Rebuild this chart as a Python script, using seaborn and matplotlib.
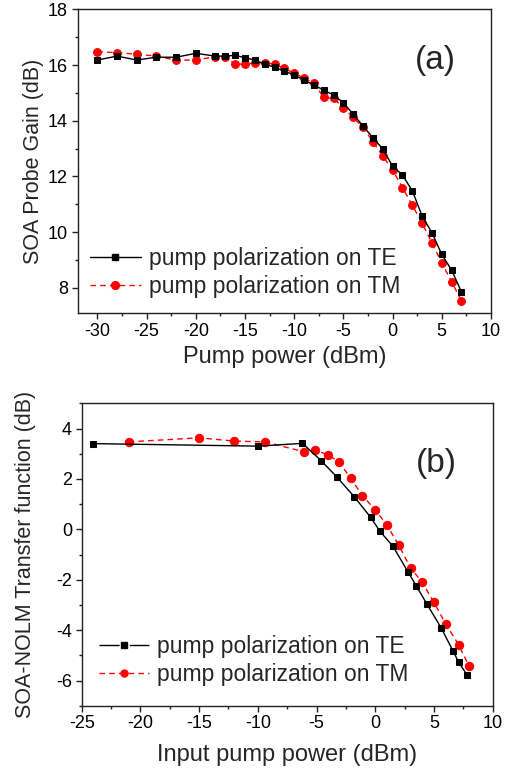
import matplotlib
matplotlib.use("Agg")
import matplotlib.pyplot as plt
import seaborn as sns
from matplotlib.ticker import MultipleLocator
from matplotlib.lines import Line2D

# ---- data: panel (a) ----
a_te_x = [-30, -28, -26, -24, -22, -20, -18, -17, -16, -15, -14, -13, -12, -11, -10, -9,
          -8, -7, -6, -5, -4, -3, -2, -1, 0, 1, 2, 3, 4, 5, 6, 7]
a_te_y = [16.18, 16.32, 16.18, 16.28, 16.28, 16.42, 16.32, 16.32, 16.35, 16.26, 16.18, 16.03,
          15.92, 15.78, 15.64, 15.46, 15.28, 15.10, 14.92, 14.65, 14.23, 13.81, 13.39, 12.99,
          12.37, 12.05, 11.49, 10.58, 9.98, 9.20, 8.64, 7.85]
a_tm_x = [-30, -28, -26, -24, -22, -20, -18, -17, -16, -15, -14, -13, -12, -11, -10, -9,
          -8, -7, -6, -5, -4, -3, -2, -1, 0, 1, 2, 3, 4, 5, 6, 7]
a_tm_y = [16.48, 16.44, 16.39, 16.32, 16.17, 16.18, 16.30, 16.28, 16.03, 16.03, 16.08, 16.09,
          16.03, 15.88, 15.70, 15.53, 15.34, 14.84, 14.80, 14.47, 14.12, 13.76, 13.25, 12.73,
          12.23, 11.60, 10.97, 10.32, 9.62, 8.90, 8.22, 7.53]

# ---- data: panel (b) ----
b_te_x = [-24, -10, -6.2, -4.6, -3.3, -1.8, -0.4, 0.4, 1.5, 2.8, 3.5, 4.4, 5.6, 6.6, 7.1, 7.8]
b_te_y = [3.40, 3.30, 3.41, 2.72, 2.09, 1.30, 0.48, -0.08, -0.67, -1.70, -2.25, -2.97, -3.90,
          -4.81, -5.27, -5.77]
b_tm_x = [-21, -15, -12, -9.4, -6.1, -5.1, -4.0, -3.1, -2.1, -1.1, 0.0, 1.0, 2.0, 3.0, 4.0,
          5.0, 6.0, 7.1, 8.0]
b_tm_y = [3.47, 3.63, 3.50, 3.47, 3.08, 3.14, 2.95, 2.68, 2.03, 1.34, 0.77, 0.16, -0.63, -1.52,
          -2.11, -2.90, -3.76, -4.58, -5.44]

labels = ["pump polarization on TE", "pump polarization on TM"]

sns.set_style("ticks")
plt.rcParams['font.family'] = ['Liberation Sans', 'DejaVu Sans']
plt.rcParams['axes.unicode_minus'] = False
plt.rcParams['axes.linewidth'] = 1.0
plt.rcParams['axes.edgecolor'] = '#222222'

W, H = 516, 772
fig = plt.figure(figsize=(W / 100, H / 100), dpi=100)

def frac(l, t, r, b):
    return [l / W, 1 - b / H, (r - l) / W, (b - t) / H]

ax1 = fig.add_axes(frac(77.7, 9.3, 491, 313))
ax2 = fig.add_axes(frac(81.7, 403.3, 492.7, 705.7))

def draw(ax, tex, tey, tmx, tmy, sq_ms, ci_ms):
    sns.lineplot(x=tex, y=tey, ax=ax, color='black', lw=1.0, marker='s', markersize=sq_ms,
                 markeredgecolor='black', estimator=None, sort=False, zorder=3)
    sns.lineplot(x=tmx, y=tmy, ax=ax, color='red', lw=1.0, marker='o', markersize=ci_ms,
                 markeredgecolor='red', estimator=None, sort=False, zorder=2)
    ax.lines[1].set_linestyle((0, (4, 3)))

draw(ax1, a_te_x, a_te_y, a_tm_x, a_tm_y, 4.6, 5.6)
draw(ax2, b_te_x, b_te_y, b_tm_x, b_tm_y, 5.0, 6.0)

ax1.set_xlim(-32, 10)
ax1.set_ylim(7.1, 18)
ax2.set_xlim(-25, 10)
ax2.set_ylim(-7, 5)

for ax in (ax1, ax2):
    ax.xaxis.set_major_locator(MultipleLocator(5))
    ax.xaxis.set_minor_locator(MultipleLocator(2.5))
    ax.yaxis.set_major_locator(MultipleLocator(2))
    ax.yaxis.set_minor_locator(MultipleLocator(1))
    for s in ax.spines.values():
        s.set_visible(True)
        s.set_linewidth(1.0)
        s.set_color('#222222')
    ax.tick_params(which='major', direction='out', length=4, width=1.0, labelsize=13,
                   colors='#222222', labelcolor='black', pad=3)
    ax.tick_params(which='minor', direction='out', length=2.5, width=1.0, colors='#222222')
    ax.tick_params(top=False, right=False, which='both')

ax1.set_xlabel("Pump power (dBm)", fontsize=17)
ax1.set_ylabel("SOA Probe Gain (dB)", fontsize=15.5)
ax2.set_xlabel("Input pump power (dBm)", fontsize=17)
ax2.set_ylabel("SOA-NOLM Transfer function (dB)", fontsize=15.5)
ax1.xaxis.set_label_coords(0.5, -0.109)
ax2.xaxis.set_label_coords(0.5, -0.127)
ax1.yaxis.set_label_coords(-0.082, 0.5)
ax2.yaxis.set_label_coords(-0.112, 0.5)

ax1.text(0.865, 0.83, "(a)", transform=ax1.transAxes, fontsize=24, ha='center', va='center')
ax2.text(0.862, 0.80, "(b)", transform=ax2.transAxes, fontsize=24, ha='center', va='center')

def legend(ax, ms_sq, ms_ci, loc_anchor, te_ls='-'):
    h = [Line2D([], [], color='black', lw=1.0, ls=te_ls, marker='s', markersize=ms_sq),
         Line2D([], [], color='red', lw=1.0, ls=(0, (4, 3)), marker='o', markersize=ms_ci)]
    ax.legend(h, labels, loc='lower left', bbox_to_anchor=loc_anchor, frameon=False,
              fontsize=16.5, handlelength=2.2, handletextpad=0.35, labelspacing=0.22,
              borderaxespad=0, borderpad=0)

legend(ax1, 4.6, 5.6, (0.03, 0.048))
legend(ax2, 4.0, 5.0, (0.042, 0.065), te_ls=(0, (14.5, 7.3, 14.5, 60)))

fig.savefig("out.png", dpi=100)
